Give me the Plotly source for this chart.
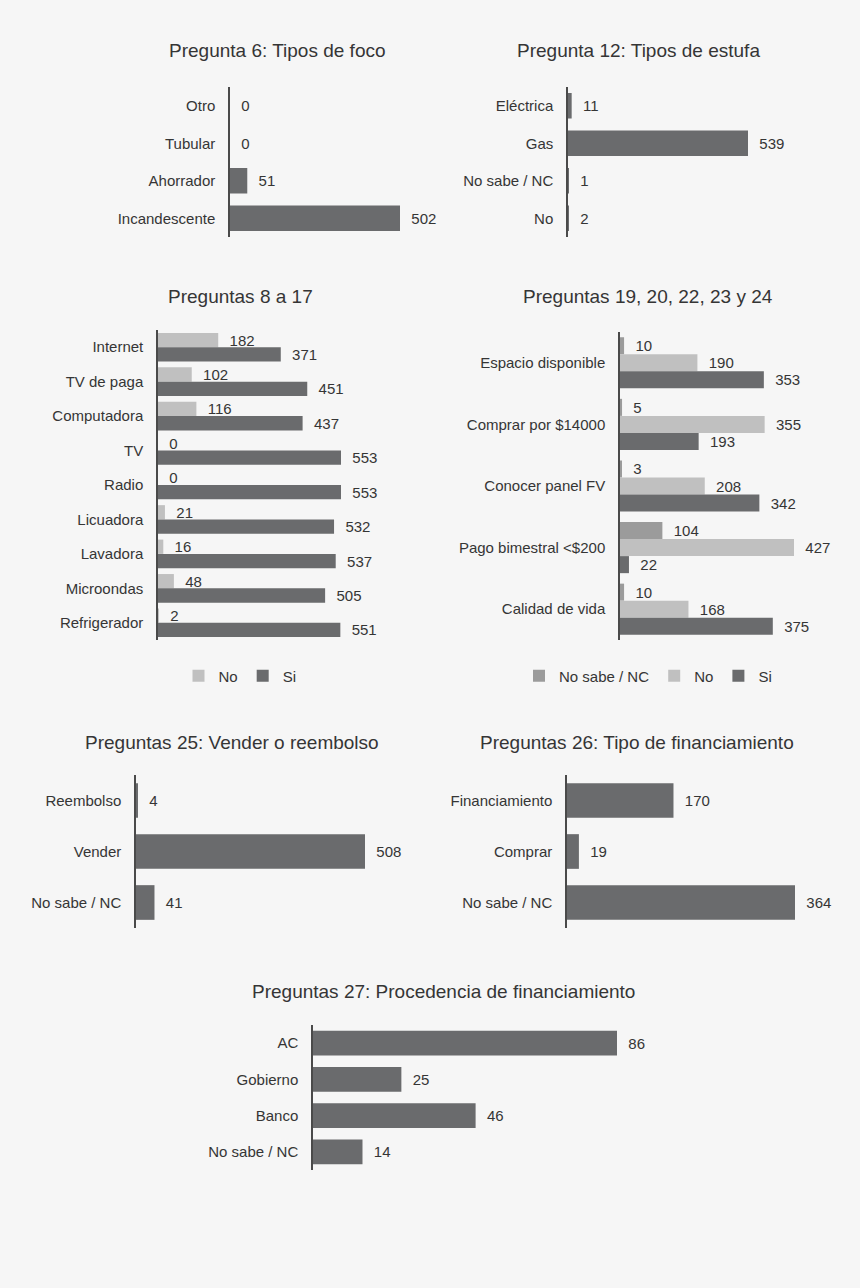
import plotly.graph_objects as go

W, H = 860, 1288
BG = "#f6f6f6"
DARK = "#6a6b6d"
LIGHT = "#c0c0c0"
MID = "#9b9b9b"
TXT = "#353535"
FONT = "Liberation Sans, Arial, sans-serif"

# ---- data ----
p6_cats = ["Otro", "Tubular", "Ahorrador", "Incandescente"]
p6_vals = [0, 0, 51, 502]

p12_cats = ["Eléctrica", "Gas", "No sabe / NC", "No"]
p12_vals = [11, 539, 1, 2]

p8_cats = ["Internet", "TV de paga", "Computadora", "TV", "Radio", "Licuadora",
           "Lavadora", "Microondas", "Refrigerador"]
p8_no = [182, 102, 116, 0, 0, 21, 16, 48, 2]
p8_si = [371, 451, 437, 553, 553, 532, 537, 505, 551]

p19_cats = ["Espacio disponible", "Comprar por $14000", "Conocer panel FV",
            "Pago bimestral <$200", "Calidad de vida"]
p19_nc = [10, 5, 3, 104, 10]
p19_no = [190, 355, 208, 427, 168]
p19_si = [353, 193, 342, 22, 375]

p25_cats = ["Reembolso", "Vender", "No sabe / NC"]
p25_vals = [4, 508, 41]

p26_cats = ["Financiamiento", "Comprar", "No sabe / NC"]
p26_vals = [170, 19, 364]

p27_cats = ["AC", "Gobierno", "Banco", "No sabe / NC"]
p27_vals = [86, 25, 46, 14]

# ---- layout geometry (pixels) ----
panels = [
    dict(x0=230, x1=440, ppu=170 / 502, yt=87, yb=237,
         title="Pregunta 6: Tipos de foco", tx=277, ty=50),
    dict(x0=568, x1=778, ppu=180 / 539, yt=87, yb=237,
         title="Pregunta 12: Tipos de estufa", tx=638, ty=50),
    dict(x0=158, x1=380, ppu=183 / 553, yt=330, yb=640,
         title="Preguntas 8 a 17", tx=240, ty=297),
    dict(x0=620, x1=830, ppu=174 / 427, yt=332, yb=640,
         title="Preguntas 19, 20, 22, 23 y 24", tx=648, ty=297),
    dict(x0=136, x1=410, ppu=229 / 508, yt=775, yb=928,
         title="Preguntas 25: Vender o reembolso", tx=232, ty=742),
    dict(x0=567, x1=840, ppu=228 / 364, yt=775, yb=928,
         title="Preguntas 26: Tipo de financiamiento", tx=637, ty=742),
    dict(x0=313, x1=680, ppu=304 / 86, yt=1025, yb=1170,
         title="Preguntas 27: Procedencia de financiamiento", tx=443, ty=991),
]

TICK_SIZE = 15
VAL_SIZE = 15
TITLE_SIZE = 19

fig = go.Figure()
PAD = "\u00a0\u00a0"

def single(i, cats, vals):
    fig.add_trace(go.Bar(
        y=cats, x=vals, orientation="h", marker=dict(color=DARK, line=dict(width=0)),
        width=0.68, offset=-0.34,
        text=[PAD + str(v) for v in vals], textposition="outside",
        constraintext="none",
        textfont=dict(size=VAL_SIZE, color=TXT, family=FONT), cliponaxis=False,
        showlegend=False, hoverinfo="skip",
        xaxis=f"x{i}" if i > 1 else "x", yaxis=f"y{i}" if i > 1 else "y"))

def grouped(i, cats, vals, name, color, legend):
    fig.add_trace(go.Bar(
        y=cats, x=vals, orientation="h", name=name,
        marker=dict(color=color, line=dict(width=0)),
        text=[PAD + str(v) for v in vals], textposition="outside",
        constraintext="none",
        textfont=dict(size=VAL_SIZE, color=TXT, family=FONT), cliponaxis=False,
        legend=legend, hoverinfo="skip",
        xaxis=f"x{i}", yaxis=f"y{i}"))

single(1, p6_cats, p6_vals)
single(2, p12_cats, p12_vals)
grouped(3, p8_cats, p8_no, "No", LIGHT, "legend")
grouped(3, p8_cats, p8_si, "Si", DARK, "legend")
grouped(4, p19_cats, p19_nc, "No sabe / NC", MID, "legend2")
grouped(4, p19_cats, p19_no, "No", LIGHT, "legend2")
grouped(4, p19_cats, p19_si, "Si", DARK, "legend2")
single(5, p25_cats, p25_vals)
single(6, p26_cats, p26_vals)
single(7, p27_cats, p27_vals)

ncats = [len(p6_cats), len(p12_cats), len(p8_cats), len(p19_cats),
         len(p25_cats), len(p26_cats), len(p27_cats)]

layout = dict(
    width=W, height=H, margin=dict(l=0, r=0, t=0, b=0),
    paper_bgcolor=BG, plot_bgcolor="rgba(0,0,0,0)",
    barmode="group", bargap=0.17, bargroupgap=0,
    font=dict(family=FONT, color=TXT, size=TICK_SIZE),
    annotations=[],
)

for k, p in enumerate(panels):
    i = k + 1
    xs = "" if i == 1 else str(i)
    layout[f"xaxis{xs}"] = dict(
        domain=[p["x0"] / W, p["x1"] / W],
        range=[0, (p["x1"] - p["x0"]) / p["ppu"]],
        visible=False, fixedrange=True,
        anchor=f"y{xs}" if i > 1 else "y")
    n = ncats[k]
    layout[f"yaxis{xs}"] = dict(
        domain=[1 - p["yb"] / H, 1 - p["yt"] / H],
        range=[n - 0.5, -0.5], type="category",
        showline=True, linecolor="#4a4a4a", linewidth=1.5,
        showgrid=False, zeroline=False, ticks="",
        ticklabelstandoff=10,
        tickfont=dict(size=TICK_SIZE, color=TXT, family=FONT),
        anchor=f"x{xs}" if i > 1 else "x", fixedrange=True)
    layout["annotations"].append(dict(
        text=p["title"], x=p["tx"] / W, y=1 - p["ty"] / H,
        xref="paper", yref="paper", xanchor="center", yanchor="middle",
        showarrow=False, font=dict(size=TITLE_SIZE, color=TXT, family=FONT)))

for key, cx in (("legend", 240), ("legend2", 648)):
    layout[key] = dict(
        orientation="h", x=cx / W, y=1 - 676 / H, xanchor="center", yanchor="middle",
        font=dict(size=TICK_SIZE, color=TXT, family=FONT), bgcolor="rgba(0,0,0,0)",
        itemwidth=30, traceorder="normal", entrywidthmode="pixels", entrywidth=0)

fig.update_layout(**layout)
fig.write_html(
    "out.html",
    config={"displayModeBar": False},
    post_script="document.body.style.margin='0';document.body.style.background='%s';" % BG,
)
